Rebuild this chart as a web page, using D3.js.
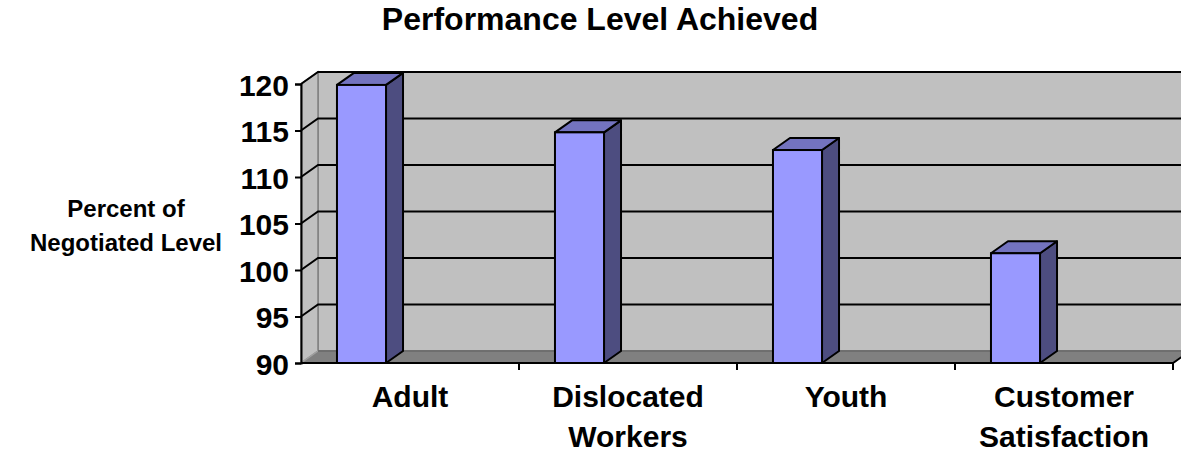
<!DOCTYPE html>
<html>
<head>
<meta charset="utf-8">
<script src="https://cdn.jsdelivr.net/npm/d3@7"></script>
<style>
  body { margin: 0; background: #fff; }
  text { font-family: Arial, "Liberation Sans", sans-serif; font-weight: bold; fill: #000; }
</style>
</head>
<body>
<div id="chart"></div>
<script>
// chart data
var categories = [["Adult"], ["Dislocated", "Workers"], ["Youth"], ["Customer", "Satisfaction"]];
var values = [119.9, 114.8, 112.9, 101.8];
var yTicks = [90, 95, 100, 105, 110, 115, 120];
var titleText = "Performance Level Achieved";
var yTitle = ["Percent of", "Negotiated Level"];

var width = 1181, height = 452;
var depthX = 17, depthY = -12;   // 3d offset of back wall
var front = { left: 301, right: 1173, top: 84, bottom: 363 };

var svg = d3.select("#chart").append("svg")
  .attr("width", width)
  .attr("height", height);

var y = d3.scaleLinear().domain([90, 120]).range([front.bottom, front.top]);
var x = d3.scaleBand().domain(d3.range(categories.length)).range([front.left, front.right]);

var pts = function(arr){ return arr.map(function(p){ return p.join(","); }).join(" "); };

// back wall
svg.append("rect")
  .attr("x", front.left + depthX)
  .attr("y", front.top + depthY)
  .attr("width", front.right - front.left + 20)
  .attr("height", front.bottom - front.top)
  .attr("fill", "#c0c0c0")
  .attr("stroke", "#808080")
  .attr("stroke-width", 1.5);

// left wall
svg.append("polygon")
  .attr("points", pts([[front.left, front.bottom], [front.left, front.top],
    [front.left + depthX, front.top + depthY], [front.left + depthX, front.bottom + depthY]]))
  .attr("fill", "#c0c0c0")
  .attr("stroke", "#808080")
  .attr("stroke-width", 1.5);

// floor
svg.append("polygon")
  .attr("points", pts([[front.left, front.bottom], [front.left + depthX, front.bottom + depthY],
    [front.right + depthX, front.bottom + depthY], [front.right, front.bottom]]))
  .attr("fill", "#808080")
  .attr("stroke", "#a0a0a0")
  .attr("stroke-width", 1.5);
svg.append("line")
  .attr("x1", front.left + depthX).attr("x2", front.right + depthX + 20)
  .attr("y1", front.bottom + depthY).attr("y2", front.bottom + depthY)
  .attr("stroke", "#606060").attr("stroke-width", 1.5);

// gridlines (skip the floor level)
var grid = svg.append("g");
yTicks.filter(function(d){ return d > 90; }).forEach(function(t){
  grid.append("path")
    .attr("d", "M" + front.left + "," + y(t) + "L" + (front.left + depthX) + "," + (y(t) + depthY) +
      "H" + (front.right + depthX + 20))
    .attr("fill", "none")
    .attr("stroke", "#000")
    .attr("stroke-width", 2);
});

// front baseline + right floor edge
svg.append("path")
  .attr("d", "M" + front.left + "," + front.bottom + "H" + front.right +
    "L" + (front.right + depthX) + "," + (front.bottom + depthY))
  .attr("fill", "none")
  .attr("stroke", "#000")
  .attr("stroke-width", 2);

// y axis
var yAxis = svg.append("g")
  .attr("transform", "translate(" + front.left + ",0)")
  .call(d3.axisLeft(y).tickValues(yTicks).tickSize(6).tickPadding(6));
yAxis.select(".domain").attr("stroke", "#000").attr("stroke-width", 2);
yAxis.selectAll(".tick line").attr("stroke", "#000").attr("stroke-width", 2);
yAxis.selectAll("text")
  .attr("font-size", 30)
  .attr("font-family", "Arial, 'Liberation Sans', sans-serif")
  .attr("font-weight", "bold")
  .attr("fill", "#000")
  .attr("dy", "0.38em");

// category ticks
svg.append("g").selectAll("line")
  .data(d3.range(1, categories.length + 1))
  .enter().append("line")
    .attr("x1", function(d){ return front.left + d * x.step(); })
    .attr("x2", function(d){ return front.left + d * x.step(); })
    .attr("y1", front.bottom)
    .attr("y2", front.bottom + 7)
    .attr("stroke", "#000")
    .attr("stroke-width", 2);

// bars
var bw = x.bandwidth();
var bars = svg.append("g").selectAll("g")
  .data(values)
  .enter().append("g");

bars.each(function(v, i){
  var g = d3.select(this);
  var x0 = x(i) + bw * 0.165, x1 = x0 + bw * 0.225;
  var yt = y(v), yb = front.bottom;
  g.append("polygon")
    .attr("points", pts([[x1, yb], [x1, yt], [x1 + depthX, yt + depthY], [x1 + depthX, yb + depthY]]))
    .attr("fill", "#4d4d80").attr("stroke", "#000").attr("stroke-width", 2).attr("stroke-linejoin", "round");
  g.append("polygon")
    .attr("points", pts([[x0, yt], [x0 + depthX, yt + depthY], [x1 + depthX, yt + depthY], [x1, yt]]))
    .attr("fill", "#7373bf").attr("stroke", "#000").attr("stroke-width", 2).attr("stroke-linejoin", "round");
  g.append("rect")
    .attr("x", x0).attr("y", yt)
    .attr("width", x1 - x0).attr("height", yb - yt)
    .attr("fill", "#9999ff").attr("stroke", "#000").attr("stroke-width", 2);
});

// category labels
svg.append("g").selectAll("text")
  .data(categories)
  .enter().append("text")
    .attr("x", function(d, i){ return x(i) + bw / 2; })
    .attr("y", 407)
    .attr("text-anchor", "middle")
    .attr("font-size", 30)
    .each(function(lines){
      var t = d3.select(this);
      lines.forEach(function(l, k){
        t.append("tspan")
          .attr("x", t.attr("x"))
          .attr("dy", k === 0 ? 0 : 40)
          .text(l);
      });
    });

// title
svg.append("text")
  .attr("x", 600)
  .attr("y", 30)
  .attr("text-anchor", "middle")
  .attr("font-size", 32)
  .text(titleText);

// y axis title
svg.append("text")
  .attr("x", 126)
  .attr("y", 217)
  .attr("text-anchor", "middle")
  .attr("font-size", 24)
  .selectAll("tspan")
  .data(yTitle)
  .enter().append("tspan")
    .attr("x", 126)
    .attr("dy", function(d, i){ return i === 0 ? 0 : 34; })
    .text(function(d){ return d; });
</script>
</body>
</html>
